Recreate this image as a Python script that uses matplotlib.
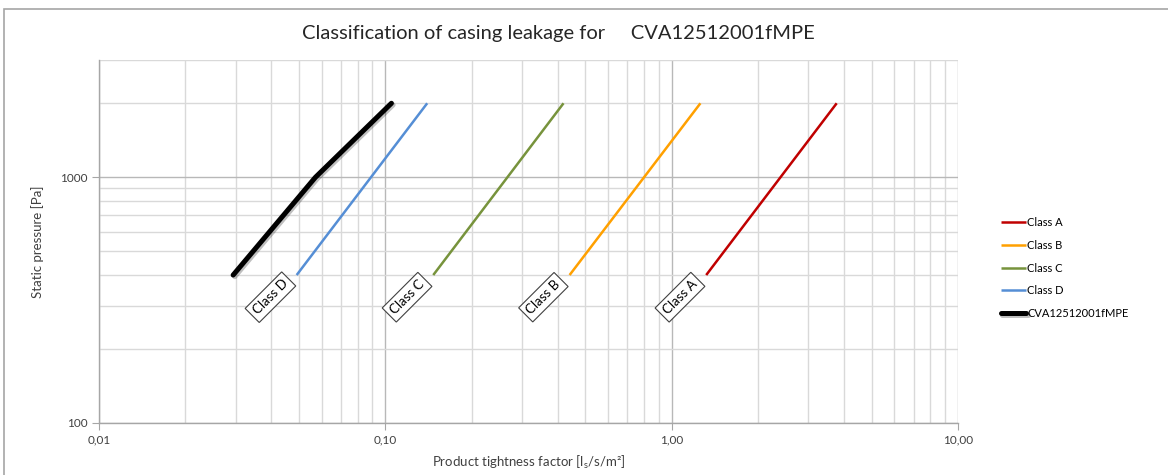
import matplotlib
matplotlib.use("Agg")
import matplotlib.pyplot as plt
import matplotlib.patheffects as pe
from matplotlib.patches import Rectangle
from matplotlib.ticker import FixedLocator, FuncFormatter, LogLocator, NullFormatter

plt.rcParams['font.family'] = ['Lato', 'DejaVu Sans']

# --- data ---
pressure = [400, 2000]                     # Pa
class_a = [1.32, 3.77]                      # l_s/s/m2
class_b = [0.44, 1.26]
class_c = [0.147, 0.419]
class_d = [0.049, 0.140]
product_name = "CVA12512001fMPE"
product_p = [400, 1000, 2000]
product_f = [0.0294, 0.057, 0.105]

series = [("Class A", class_a, "#c00000"),
          ("Class B", class_b, "#ffa000"),
          ("Class C", class_c, "#77933c"),
          ("Class D", class_d, "#558ed5")]
label_p = 325        # pressure at which the class tags sit
label_shift = 0.81   # tags sit a little left of each line's start

fig = plt.figure(figsize=(11.68, 4.75), dpi=100)
ax = fig.add_axes([0.0848, 0.1095, 0.7354, 0.7642])

# chart-area border (cut off on the right/bottom in the original)
fig.patches.append(Rectangle((4 / 1168, -0.1), 1.2, 1 - 9 / 475 + 0.1,
                             transform=fig.transFigure, fill=False,
                             edgecolor="#a6a6a6", linewidth=1.2))

for name, vals, col in series:
  ax.plot(vals, pressure, color=col, lw=1.8, label=name, solid_capstyle="butt")
  ax.text(vals[0] * label_shift, label_p, name, rotation=45, fontsize=9.5,
          ha="center", va="center", rotation_mode="anchor",
          bbox=dict(boxstyle="square,pad=0.3", fc="white", ec="#404040", lw=0.8),
          zorder=5)

ax.plot(product_f, product_p, color="black", lw=3.6, label=product_name,
        solid_capstyle="round",
        path_effects=[pe.SimpleLineShadow(offset=(1.2, -1.2), alpha=0.25),
                      pe.Normal()], zorder=4)

ax.set_xscale("log")
ax.set_yscale("log")
ax.set_xlim(0.01, 10)
ax.set_ylim(100, 3000)

ax.xaxis.set_major_locator(FixedLocator([0.01, 0.1, 1, 10]))
ax.xaxis.set_major_formatter(FuncFormatter(lambda v, p: f"{v:.2f}".replace(".", ",")))
ax.xaxis.set_minor_locator(LogLocator(base=10, subs=range(2, 10)))
ax.xaxis.set_minor_formatter(NullFormatter())
ax.yaxis.set_major_locator(FixedLocator([100, 1000]))
ax.yaxis.set_major_formatter(FuncFormatter(lambda v, p: f"{v:.0f}"))
ax.yaxis.set_minor_locator(LogLocator(base=10, subs=range(2, 10)))
ax.yaxis.set_minor_formatter(NullFormatter())

ax.grid(True, which="major", color="#b8b8b8", lw=1.0)
ax.grid(True, which="minor", color="#d9d9d9", lw=1.0)
ax.set_axisbelow(True)

for s in ("top", "right"):
  ax.spines[s].set_visible(False)
for s in ("left", "bottom"):
  ax.spines[s].set_color("#a6a6a6")
  ax.spines[s].set_linewidth(1.0)
ax.tick_params(which="major", length=5, color="#a6a6a6", labelsize=8.5,
               labelcolor="#404040")
ax.tick_params(which="minor", length=0)

ax.set_xlabel(r"Product tightness factor [l$_\mathregular{s}$/s/m²]",
              fontsize=9.5, color="#404040", labelpad=6)
ax.set_ylabel("Static pressure [Pa]", fontsize=9.5, color="#404040", labelpad=11)

fig.text(0.478, 0.93, "Classification of casing leakage for     " + product_name,
         ha="center", va="center", fontsize=14.5, color="#262626")

fig.legend(loc="upper left", bbox_to_anchor=(0.853, 0.552), frameon=False,
           fontsize=8, handlelength=2.3, handletextpad=0.1, labelspacing=1.05,
           borderaxespad=0)

fig.savefig("out.png", dpi=100)
